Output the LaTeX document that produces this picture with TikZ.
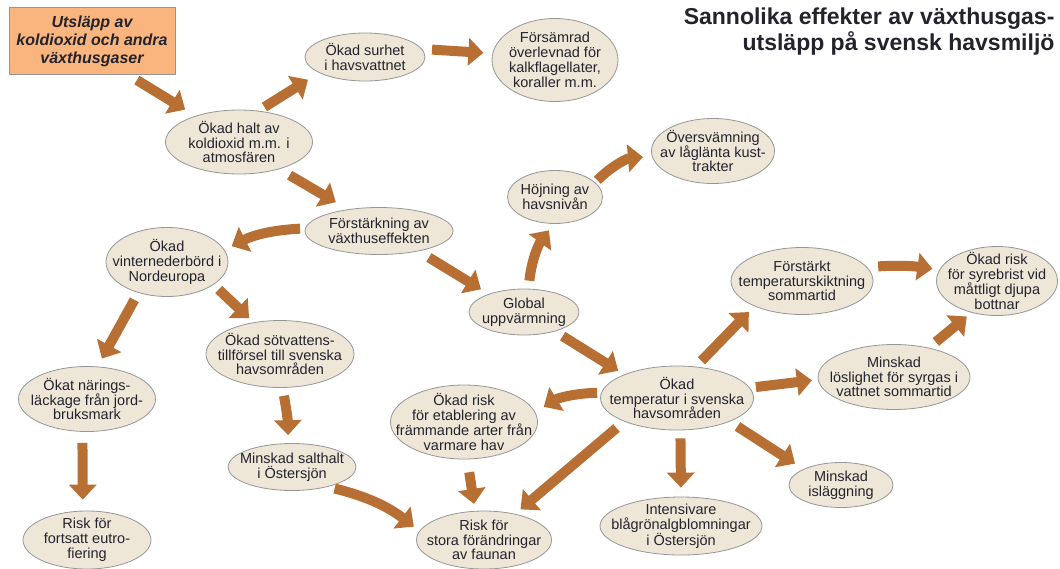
\documentclass[tikz,border=0pt]{standalone}
\usepackage{fontspec}
\setmainfont{Liberation Sans}
\usepackage{xcolor}
\usetikzlibrary{shapes.geometric,arrows.meta}
\definecolor{pil}{RGB}{183,111,52}
\definecolor{beige}{RGB}{238,231,216}
\definecolor{kant}{RGB}{150,150,150}
\definecolor{orangebox}{RGB}{250,181,126}
\definecolor{textgra}{RGB}{35,35,45}
\begin{document}
\begin{tikzpicture}[x=1pt,y=-1pt,
		effekt/.style={ellipse,draw=kant,fill=beige,line width=0.8pt,inner xsep=-22pt,inner ysep=-8pt,align=center,text=textgra,font=\fontsize{14.5}{14.8}\selectfont},
		flow/.style={draw=pil,line width=10pt,-{Triangle[width=27pt,length=15pt,fill=pil]}}]
		\useasboundingbox (0,0) rectangle (1060,568);
		% rubrik och startruta
		\node[anchor=north east,align=right,text=textgra,font=\fontsize{23}{26}\bfseries] (rubrik) at (1058,4) {Sannolika effekter av växthusgas-\\utsläpp på svensk havsmiljö};
		\node[draw=kant,fill=orangebox,line width=0.8pt,minimum width=166pt,minimum height=67pt,align=center,text=textgra,font=\fontsize{16}{18}\bfseries\itshape] (utslapp) at (92,41) {Utsläpp av\\koldioxid och andra\\växthusgaser};
		% effekter
		\node[effekt,minimum width=147pt,minimum height=64pt] (halt) at (239,142) {Ökad halt av\\koldioxid m.m. i\\atmosfären};
		\node[effekt,minimum width=120pt,minimum height=48pt] (surhet) at (365,57) {Ökad surhet\\i havsvattnet};
		\node[effekt,minimum width=126pt,minimum height=83pt] (forsamrad) at (555,60) {Försämrad\\överlevnad för\\kalkflagellater,\\koraller m.m.};
		\node[effekt,minimum width=123pt,minimum height=65pt] (oversvamning) at (713,151) {Översvämning\\av låglänta kust-\\trakter};
		\node[effekt,minimum width=95pt,minimum height=53pt] (hojning) at (555,197) {Höjning av\\havsnivån};
		\node[effekt,minimum width=148pt,minimum height=47pt] (forstarkning) at (379,231) {Förstärkning av\\växthuseffekten};
		\node[effekt,minimum width=122pt,minimum height=69pt] (vinter) at (167,262) {Ökad\\vinternederbörd i\\Nordeuropa};
		\node[effekt,minimum width=110pt,minimum height=46pt] (global) at (524,312) {Global\\uppvärmning};
		\node[effekt,minimum width=148pt,minimum height=67pt] (sotvatten) at (280,354) {Ökad sötvattens-\\tillförsel till svenska\\havsområden};
		\node[effekt,minimum width=142pt,minimum height=67pt] (skiktning) at (802,281) {Förstärkt\\temperaturskiktning\\sommartid};
		\node[effekt,minimum width=121pt,minimum height=69pt] (syrebrist) at (997,281) {Ökad risk\\för syrebrist vid\\måttligt djupa\\bottnar};
		\node[effekt,minimum width=152pt,minimum height=65pt] (loslighet) at (894,377) {Minskad\\löslighet för syrgas i\\vattnet sommartid};
		\node[effekt,minimum width=153pt,minimum height=64pt] (temperatur) at (677,398) {Ökad\\temperatur i svenska\\havsområden};
		\node[effekt,minimum width=147pt,minimum height=74pt] (etablering) at (464,422) {Ökad risk\\för etablering av\\främmande arter från\\varmare hav};
		\node[effekt,minimum width=137pt,minimum height=65pt] (naring) at (87,399) {Ökat närings-\\läckage från jord-\\bruksmark};
		\node[effekt,minimum width=128pt,minimum height=47pt] (salthalt) at (292,467) {Minskad salthalt\\i Östersjön};
		\node[effekt,minimum width=128pt,minimum height=58pt] (eutro) at (87,540) {Risk för\\fortsatt eutro-\\fiering};
		\node[effekt,minimum width=135pt,minimum height=58pt] (fauna) at (484,540) {Risk för\\stora förändringar\\av faunan};
		\node[effekt,minimum width=162pt,minimum height=58pt] (blagron) at (681,526) {Intensivare\\blågrönalgblomningar\\i Östersjön};
		\node[effekt,minimum width=104pt,minimum height=45pt] (islaggning) at (841,485) {Minskad\\isläggning};
		% pilar
		\draw[flow,shorten <=10pt,shorten >=12pt] (utslapp.-43) -- (halt.149);
		\draw[flow,shorten <=7pt,shorten >=13pt] (halt.58) -- (surhet.199);
		\draw[flow,shorten <=10pt,shorten >=9pt] (surhet.8) -- (forsamrad.174);
		\draw[flow,shorten <=12pt,shorten >=14pt] (halt.-34) -- (forstarkning.145);
		\draw[flow,shorten <=5pt,shorten >=8pt] (forstarkning.178) to[bend right=12] (vinter.12);
		\draw[flow,shorten <=12pt,shorten >=9pt] (forstarkning.-27) -- (global.153);
		\draw[flow,shorten <=8pt,shorten >=8pt] (global.79) to[bend left=15] (hojning.267);
		\draw[flow,shorten <=3pt,shorten >=9pt] (hojning.20) to[bend left=20] (oversvamning.185);
		\draw[flow,shorten <=9pt,shorten >=7pt] (global.-32) -- (temperatur.156);
		\draw[flow,shorten <=8pt,shorten >=9pt] (vinter.-133) -- (naring.72);
		\draw[flow,shorten <=7pt,shorten >=6pt] (vinter.-26) -- (sotvatten.130);
		\draw[flow,shorten <=8pt,shorten >=8pt] (temperatur.59) -- (skiktning.208);
		\draw[flow,shorten <=11pt,shorten >=7pt] (skiktning.12) to[bend left=6] (syrebrist.169);
		\draw[flow,shorten <=6pt,shorten >=6pt] (temperatur.8) -- (loslighet.182);
		\draw[flow,shorten <=9pt,shorten >=6pt] (loslighet.40) -- (syrebrist.231);
		\draw[flow,shorten <=4pt,shorten >=10pt] (temperatur.176) to[bend right=15] (etablering.8);
		\draw[flow,shorten <=10pt,shorten >=7pt] (temperatur.204) -- (fauna.40);
		\draw[flow,shorten <=8pt,shorten >=9pt] (temperatur.-84) -- (blagron.90);
		\draw[flow,shorten <=9pt,shorten >=10pt] (temperatur.-24) -- (islaggning.157);
		\draw[flow,shorten <=13pt,shorten >=7pt] (etablering.-85) -- (fauna.107);
		\draw[flow,shorten <=8pt,shorten >=8pt] (sotvatten.-86) to[bend left=5] (salthalt.99);
		\draw[flow,shorten <=7pt,shorten >=7pt] (salthalt.-29) to[bend left=12] (fauna.172);
		\draw[flow,shorten <=11pt,shorten >=11pt] (naring.-98) -- (eutro.98);
	\end{tikzpicture}
\end{document}
